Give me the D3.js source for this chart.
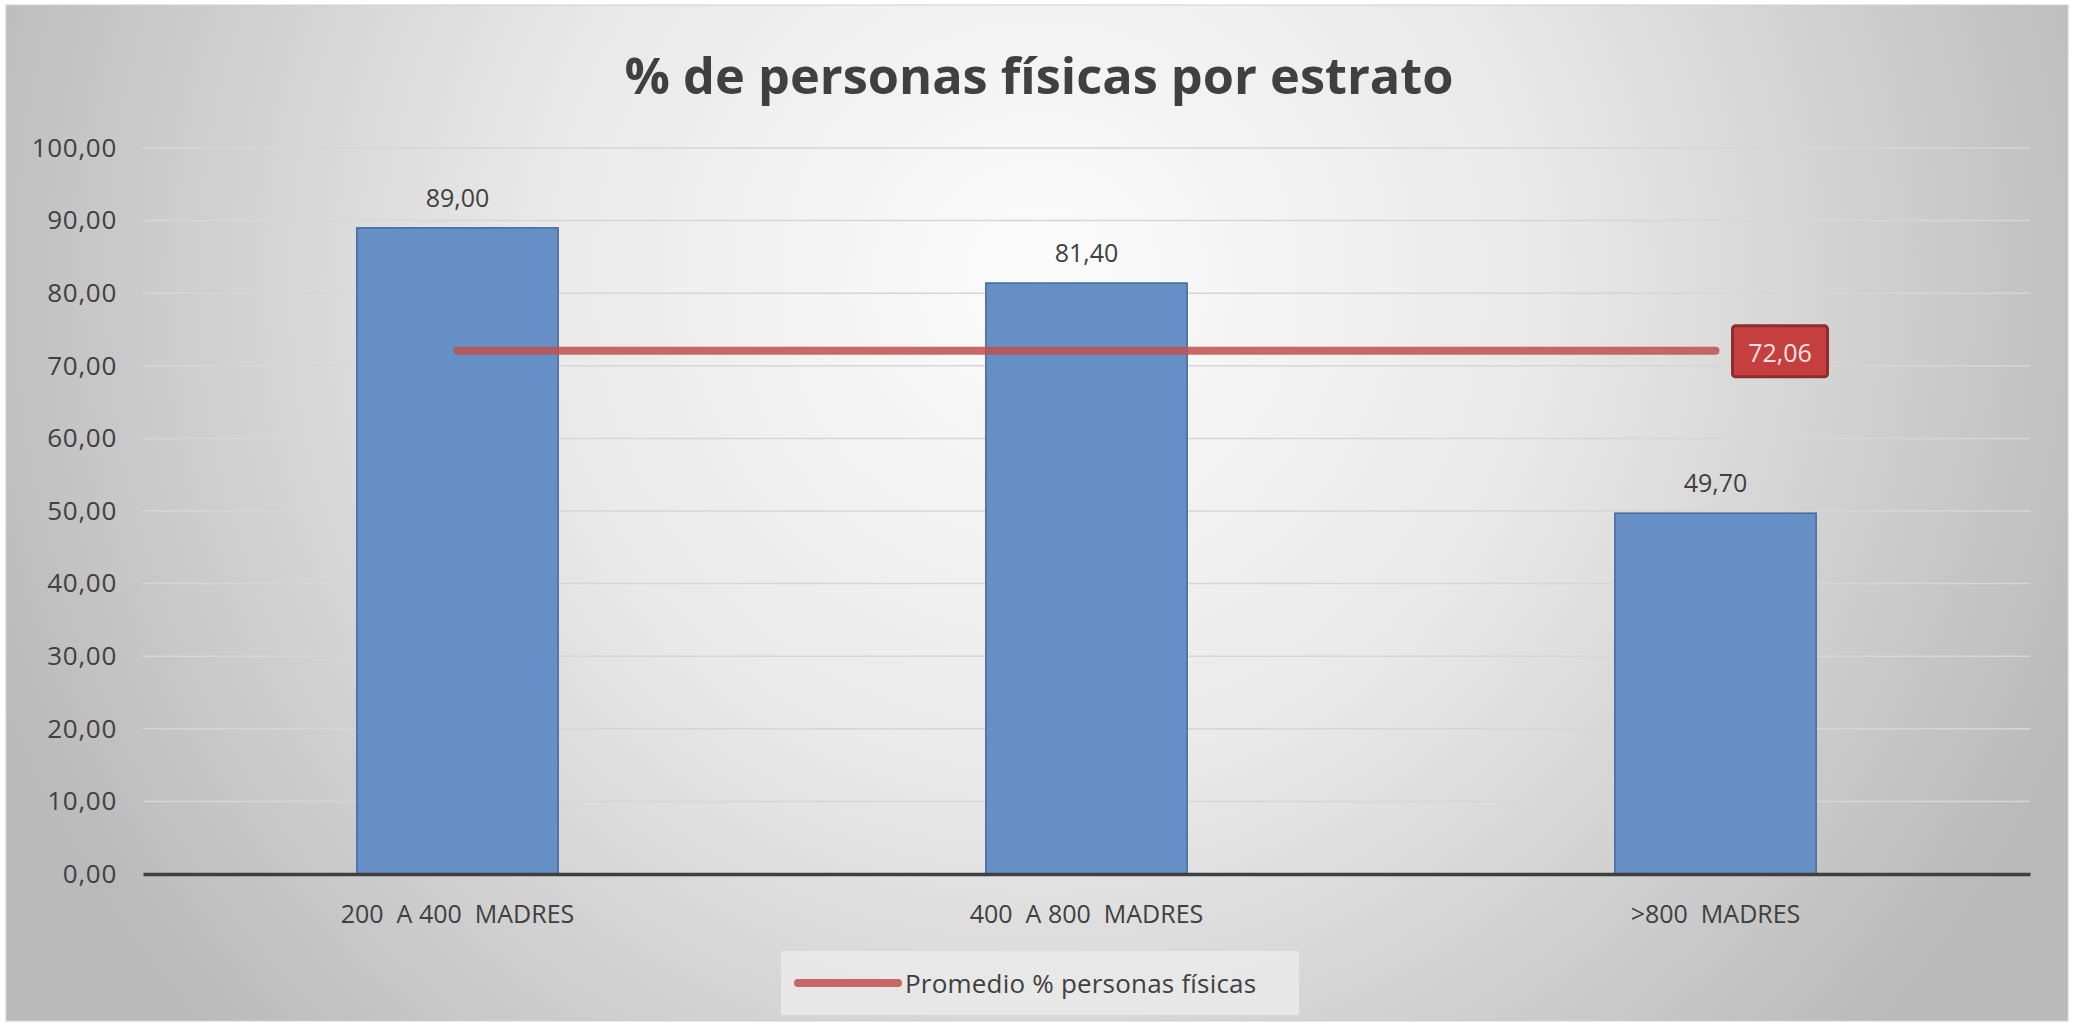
<!DOCTYPE html>
<html>
<head>
<meta charset="utf-8">
<script src="https://cdn.jsdelivr.net/npm/d3@7"></script>
<style>
  html, body { margin: 0; padding: 0; background: #ffffff; }
  svg { display: block; }
  text { white-space: pre; }
</style>
</head>
<body>
<svg id="chart" width="2078" height="1025"></svg>
<script>
// ---- data ----
const categories = ["200  A 400  MADRES", "400  A 800  MADRES", ">800  MADRES"];
const values = [89.00, 81.40, 49.70];
const averageValues = [72.06, 72.06, 72.06];
const yTicks = [0, 10, 20, 30, 40, 50, 60, 70, 80, 90, 100];
const titleText = "% de personas físicas por estrato";
const legendLabel = "Promedio % personas físicas";

// ---- setup ----
const W = 2078, H = 1025;
const svg = d3.select("#chart");
const locale = d3.formatLocale({decimal: ",", thousands: ".", grouping: [3], currency: ["", "€"]});
const fmt = locale.format(".2f");
const FONT = "'Open Sans', sans-serif";

const defs = svg.append("defs");
const grad = defs.append("radialGradient")
  .attr("id", "bg").attr("gradientUnits", "userSpaceOnUse")
  .attr("cx", 1040).attr("cy", 280).attr("r", 1120);
grad.append("stop").attr("offset", 0).attr("stop-color", "#fcfcfc");
grad.append("stop").attr("offset", 0.45).attr("stop-color", "#e9e9e9");
grad.append("stop").attr("offset", 1).attr("stop-color", "#bababa");

// chart area background
svg.append("rect").attr("x", 6).attr("y", 5).attr("width", 2062).attr("height", 1016)
  .attr("fill", "url(#bg)").attr("stroke", "#d0d0d0").attr("stroke-width", 1);

const x = d3.scaleBand().domain(categories).range([143, 2030])
  .paddingInner(0.68).paddingOuter(0.34);
const y = d3.scaleLinear().domain([0, 100]).range([874, 148]);

// gridlines
svg.append("g").selectAll("line").data(yTicks.filter(d => d > 0)).join("line")
  .attr("x1", 143).attr("x2", 2030)
  .attr("y1", d => y(d)).attr("y2", d => y(d))
  .attr("stroke", "#d6d6d6").attr("stroke-width", 1.5);

// y axis labels
const yAxis = d3.axisLeft(y).tickValues(yTicks).tickFormat(fmt).tickSize(0).tickPadding(0);
const yg = svg.append("g").attr("transform", "translate(117,0)").call(yAxis);
yg.select(".domain").remove();
yg.selectAll("text").attr("font-family", FONT).attr("font-size", 26)
  .attr("letter-spacing", 0.7).attr("fill", "#404040");

// bars
svg.append("g").selectAll("rect").data(values).join("rect")
  .attr("x", (d, i) => x(categories[i]))
  .attr("y", d => y(d))
  .attr("width", x.bandwidth())
  .attr("height", d => y(0) - y(d))
  .attr("fill", "#6690c5").attr("stroke", "#43699b").attr("stroke-width", 1.5);

// bar value labels
svg.append("g").selectAll("text").data(values).join("text")
  .attr("x", (d, i) => x(categories[i]) + x.bandwidth() / 2)
  .attr("y", d => y(d) - 31)
  .attr("text-anchor", "middle").attr("dominant-baseline", "central")
  .attr("font-family", FONT).attr("font-size", 25)
  .attr("fill", "#404040")
  .text(d => fmt(d));

// x axis
const xAxis = d3.axisBottom(x).tickSize(0).tickPadding(0);
const xg = svg.append("g").attr("transform", "translate(0,874)").call(xAxis);
xg.select(".domain").attr("stroke", "#3f3f3f").attr("stroke-width", 3.5);
xg.selectAll("text").attr("font-family", FONT).attr("font-size", 25)
  .attr("fill", "#404040").attr("dy", null).attr("y", 39).attr("dominant-baseline", "central");

// average line
const line = d3.line().x((d, i) => x(categories[i]) + x.bandwidth() / 2).y(d => y(d));
svg.append("path").datum(averageValues).attr("d", line)
  .attr("fill", "none").attr("stroke", "#c0504d").attr("stroke-opacity", 0.85)
  .attr("stroke-width", 8).attr("stroke-linecap", "round");

// average data label (last point)
const lastI = averageValues.length - 1;
const lx = x(categories[lastI]) + x.bandwidth() / 2 + 17;
const ly = y(averageValues[lastI]);
svg.append("rect").attr("x", lx).attr("y", ly - 25).attr("width", 95).attr("height", 51)
  .attr("rx", 3).attr("fill", "#c43f3d").attr("stroke", "#8f2c2c").attr("stroke-width", 3);
svg.append("text").attr("x", lx + 47.5).attr("y", ly + 1)
  .attr("text-anchor", "middle").attr("dominant-baseline", "central")
  .attr("font-family", FONT).attr("font-size", 25)
  .attr("fill", "#f6e4e3").text(fmt(averageValues[lastI]));

// title (fit to the reference width)
const title = svg.append("text").attr("x", 1039).attr("y", 74)
  .attr("text-anchor", "middle").attr("dominant-baseline", "central")
  .attr("font-family", FONT).attr("font-weight", "bold").attr("font-size", 50)
  .attr("fill", "#404040").text(titleText);
const tw = title.node().getComputedTextLength();
if (tw > 0) title.attr("font-size", 50 * 829 / tw);

// legend
const lg = svg.append("g");
lg.append("rect").attr("x", 781).attr("y", 951).attr("width", 518).attr("height", 64)
  .attr("fill", "#ebebeb").attr("fill-opacity", 0.8);
lg.append("line").attr("x1", 798).attr("x2", 898).attr("y1", 983).attr("y2", 983)
  .attr("stroke", "#c0504d").attr("stroke-opacity", 0.85).attr("stroke-width", 8).attr("stroke-linecap", "round");
lg.append("text").attr("x", 905).attr("y", 983).attr("dominant-baseline", "central")
  .attr("font-family", FONT).attr("font-size", 26).attr("letter-spacing", 0.2)
  .attr("fill", "#404040").text(legendLabel);
</script>
</body>
</html>
